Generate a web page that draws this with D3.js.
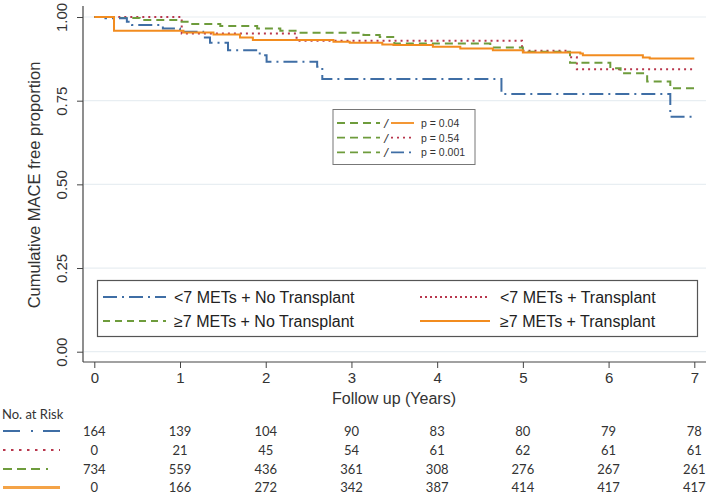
<!DOCTYPE html>
<html><head><meta charset="utf-8">
<script src="https://cdn.jsdelivr.net/npm/d3@7"></script>
<style>body{margin:0;background:#fff}svg{display:block}</style>
</head><body>
<svg id="c" width="709" height="495"></svg>
<script>
const seriesNames = ["<7 METs + No Transplant", "<7 METs + Transplant", "≥7 METs + No Transplant", "≥7 METs + Transplant"];
const blueTimes = [0, 0.13, 0.38, 0.44, 0.8, 1.0, 1.27, 1.35, 1.56, 1.93, 2.01, 2.6, 2.66, 4.75, 6.72, 7];
const blueVals  = [1, 0.996, 0.986, 0.976, 0.966, 0.956, 0.939, 0.923, 0.901, 0.886, 0.866, 0.851, 0.815, 0.770, 0.702, 0.702];
const redTimes = [0, 1.02, 2.36, 4.99, 5.55, 5.63, 7];
const redVals  = [1, 0.951, 0.929, 0.899, 0.88, 0.844, 0.844];
const greenTimes = [0, 0.22, 0.53, 1.0, 1.12, 1.47, 1.9, 2.17, 2.36, 3.14, 3.33, 3.5, 4.62, 5.0, 5.55, 6.02, 6.14, 6.45, 6.72, 7];
const greenVals  = [1, 0.997, 0.991, 0.986, 0.979, 0.973, 0.966, 0.959, 0.953, 0.946, 0.94, 0.921, 0.909, 0.896, 0.863, 0.847, 0.832, 0.807, 0.787, 0.787];
const orangeTimes = [0, 0.23, 1.04, 1.39, 1.70, 1.85, 2.79, 2.98, 3.36, 3.49, 3.95, 4.27, 4.65, 5.0, 5.67, 5.7, 6.4, 6.48, 7];
const orangeVals  = [1, 0.959, 0.954, 0.948, 0.939, 0.931, 0.926, 0.923, 0.918, 0.916, 0.911, 0.906, 0.901, 0.894, 0.891, 0.886, 0.879, 0.876, 0.876];
const xTicks = [0, 1, 2, 3, 4, 5, 6, 7];
const yTicks = [0, 0.25, 0.5, 0.75, 1.0];
const riskBlue = [164, 139, 104, 90, 83, 80, 79, 78];
const riskRed = [0, 21, 45, 54, 61, 62, 61, 61];
const riskGreen = [734, 559, 436, 361, 308, 276, 267, 261];
const riskOrange = [0, 166, 272, 342, 387, 414, 417, 417];
const pLabels = ["p = 0.04", "p = 0.54", "p = 0.001"];

const colors = ["#3f6ea5", "#b8374d", "#6e9c3c", "#f28c1f"];
const dashes = ["14,5,2,5", "2,4", "8,5", null];

const svg = d3.select("#c");
const x = d3.scaleLinear().domain([0, 7]).range([94.3, 694.3]);
const y = d3.scaleLinear().domain([0, 1]).range([351.7, 17]);
const plotL = 83, plotR = 706, plotB = 362;

// gridlines
svg.append("g").selectAll("line").data(yTicks).join("line")
  .attr("x1", plotL + 1).attr("x2", plotR).attr("y1", d => y(d)).attr("y2", d => y(d))
  .attr("stroke", "#e8eef2").attr("stroke-width", 1.2);

// y axis
const yAxis = svg.append("g").attr("transform", `translate(${plotL},0)`)
  .call(d3.axisLeft(y).tickValues(yTicks).tickFormat(d3.format(".2f")).tickSize(6).tickSizeOuter(0));
yAxis.select(".domain").attr("d", `M0,6V${plotB}`).attr("stroke", "#444").attr("stroke-width", 1.2);
yAxis.selectAll(".tick line").attr("stroke", "#444");
yAxis.selectAll(".tick text").attr("font-family", "Liberation Sans, Arial, sans-serif").attr("font-size", 15)
  .attr("fill", "#333").attr("text-anchor", "middle").attr("x", 0).attr("y", 0).attr("dy", "0")
  .attr("transform", "translate(-16,0) rotate(-90)");

// x axis
const xAxis = svg.append("g").attr("transform", `translate(0,${plotB})`)
  .call(d3.axisBottom(x).tickValues(xTicks).tickFormat(d3.format("d")).tickSize(6).tickSizeOuter(0));
xAxis.select(".domain").attr("d", `M${plotL},0H${plotR}`).attr("stroke", "#444").attr("stroke-width", 1.2);
xAxis.selectAll(".tick line").attr("stroke", "#444");
xAxis.selectAll(".tick text").attr("font-family", "Liberation Sans, Arial, sans-serif").attr("font-size", 15)
  .attr("fill", "#333").attr("y", 10).attr("dy", "0.71em");

// axis titles
svg.append("text").attr("transform", "translate(40,185) rotate(-90)").attr("text-anchor", "middle")
  .attr("font-family", "Liberation Sans, Arial, sans-serif").attr("font-size", 16.5).attr("fill", "#333")
  .text("Cumulative MACE free proportion");
svg.append("text").attr("x", 394).attr("y", 404).attr("text-anchor", "middle")
  .attr("font-family", "Liberation Sans, Arial, sans-serif").attr("font-size", 16).attr("fill", "#333")
  .text("Follow up (Years)");

// curves
const series = [
  {t: blueTimes, v: blueVals},
  {t: redTimes, v: redVals},
  {t: greenTimes, v: greenVals},
  {t: orangeTimes, v: orangeVals}
];
const line = d3.line().x(d => x(d[0])).y(d => y(d[1])).curve(d3.curveStepAfter);
const order = [1, 2, 0, 3];
order.forEach(i => {
  const s = series[i];
  const pts = s.t.map((t, j) => [t, s.v[j]]);
  svg.append("path").attr("d", line(pts)).attr("fill", "none")
    .attr("stroke", colors[i]).attr("stroke-width", 2)
    .attr("stroke-dasharray", dashes[i]);
});

// p-value legend
const pg = svg.append("g");
pg.append("rect").attr("x", 333).attr("y", 109.5).attr("width", 142).attr("height", 55)
  .attr("fill", "#fff").attr("stroke", "#777").attr("stroke-width", 1);
const pColorIdx = [3, 1, 0];
pLabels.forEach((lab, k) => {
  const yy = 123 + k * 14.7;
  pg.append("line").attr("x1", 337).attr("x2", 380).attr("y1", yy).attr("y2", yy)
    .attr("stroke", colors[2]).attr("stroke-width", 1.8).attr("stroke-dasharray", "8,5");
  pg.append("text").attr("x", 386).attr("y", yy + 5).attr("text-anchor", "middle")
    .attr("font-family", "Liberation Sans, Arial, sans-serif").attr("font-size", 13).attr("font-style", "italic")
    .attr("fill", "#333").text("/");
  const ci = pColorIdx[k];
  pg.append("line").attr("x1", 391).attr("x2", 414).attr("y1", yy).attr("y2", yy)
    .attr("stroke", colors[ci]).attr("stroke-width", 1.8).attr("stroke-dasharray", ci === 0 ? "13,5,2,5" : dashes[ci]);
  pg.append("text").attr("x", 421).attr("y", yy + 4).attr("font-family", "Liberation Sans, Arial, sans-serif")
    .attr("font-size", 10.5).attr("fill", "#333").text(lab);
});

// main legend
const lg = svg.append("g");
lg.append("rect").attr("x", 97.5).attr("y", 280.5).attr("width", 600).attr("height", 56)
  .attr("fill", "#fff").attr("stroke", "#555").attr("stroke-width", 1.2);
const legPos = [[103, 166, 174, 297], [420, 490, 500, 297], [103, 166, 174, 321], [420, 490, 500, 321]];
seriesNames.forEach((nm, i) => {
  const [a, b, tx, yy] = legPos[i];
  lg.append("line").attr("x1", a).attr("x2", b).attr("y1", yy).attr("y2", yy)
    .attr("stroke", colors[i]).attr("stroke-width", 1.8).attr("stroke-dasharray", i === 1 ? "2,3" : (i === 2 ? "7,5" : dashes[i]));
  lg.append("text").attr("x", tx).attr("y", yy + 6).attr("font-family", "Liberation Sans, Arial, sans-serif")
    .attr("font-size", 16).attr("fill", "#222").text(nm);
});

// risk table
svg.append("text").attr("x", 2).attr("y", 419).attr("font-family", "Lato, 'Open Sans', sans-serif")
  .attr("font-size", 13).attr("fill", "#333").text("No. at Risk");
const risks = [riskBlue, riskRed, riskGreen, riskOrange];
const riskY = [431, 450, 469, 487.5];
const riskDash = ["17,11,2,10,17", "2.5,5.5", "9,5,9,5,9,6,2,20", null];
const riskW = [2, 2, 2, 3];
const riskCol = ["#3f6ea5", "#b8374d", "#6e9c3c", "#f4a347"];
risks.forEach((arr, i) => {
  svg.append("line").attr("x1", 3).attr("x2", 60).attr("y1", riskY[i]).attr("y2", riskY[i])
    .attr("stroke", riskCol[i]).attr("stroke-width", riskW[i]).attr("stroke-dasharray", riskDash[i]);
  svg.append("g").selectAll("text").data(arr).join("text")
    .attr("x", (d, j) => x(xTicks[j])).attr("y", riskY[i] + 4.5).attr("text-anchor", "middle")
    .attr("font-family", "Lato, 'Open Sans', sans-serif").attr("font-size", 13).attr("fill", "#333")
    .text(d => d);
});
</script>
</body></html>
